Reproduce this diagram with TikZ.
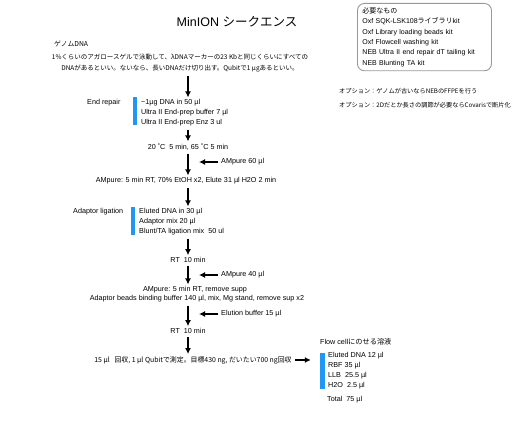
\documentclass[tikz,border=0pt]{standalone}
\usepackage{fontspec}
\usetikzlibrary{arrows.meta}
\setmainfont{Liberation Sans}
\newfontfamily\jp{Noto Sans CJK JP}
\definecolor{barblue}{RGB}{33,150,243}
\begin{document}
\begin{tikzpicture}[x=1pt,y=-1pt,
    txt/.style={inner sep=1pt,font=\fontsize{7.2}{8.5}\selectfont},
    jptxt/.style={inner sep=1pt,font=\fontsize{#1}{8.5}\selectfont\jp},
    bar/.style={fill=barblue,draw=none,inner sep=0pt,minimum width=4.5pt},
    flow/.style={line width=1.2pt,-{Latex[length=6pt,width=6pt]},shorten <=2pt,shorten >=1pt},
    side/.style={flow,shorten >=11pt}]
  \useasboundingbox (0,0) rectangle (530,425);
  \coordinate (col) at (188,0); % main column
  \node[font=\fontsize{12.5}{14}\selectfont] (title) at (237,22) {MinION {\jp シークエンス}};
  % needed kits
  \node[txt,draw=gray!80,line width=0.9pt,rounded corners=7pt,anchor=north west,
        align=left,text width=124pt,inner xsep=5pt,inner ysep=4pt,
        font=\fontsize{7}{10.4}\selectfont] (kits) at (357,3)
    {{\jp 必要なもの}\\
     Oxf SQK-LSK108{\jp ライブラリ}kit\\
     Oxf Library loading beads kit\\
     Oxf Flowcell washing kit\\
     NEB Ultra II end repair dT tailing kit\\
     NEB Blunting TA kit};
  \node[jptxt=6.2,right] (opt1) at (338,91) {オプション：ゲノムが古いならNEBのFFPEを行う};
  \node[jptxt=6.2,right] (opt2) at (338,105) {オプション：2Dだとか長さの調節が必要ならCovarisで断片化};
  % genome
  \node[jptxt=6.8,right] (genome) at (53,44) {ゲノムDNA};
  \node[jptxt=6.5] (gel1) at (180,57) {1\%くらいのアガロースゲルで泳動して、λDNAマーカーの23 Kbと同じくらいにすべての};
  \node[jptxt=6.5] (gel2) at (180,69) {DNAがあるといい。ないなら、長いDNAだけ切り出す。Qubitで1 µgあるといい。};
  % end repair
  \node[txt,right] (endrep) at (86,103) {End repair};
  \node[bar,minimum height=28pt] (erbar) at (135,111) {};
  \node[txt,right] (er1) at (140,103) {\textasciitilde1µg DNA in 50 µl};
  \node[txt,right] (er2) at (140,113) {Ultra II End-prep buffer 7 µl};
  \node[txt,right] (er3) at (140,123) {Ultra II End-prep Enz 3 ul};
  \node[txt] (temp) at (188,147) {20 ˚C\ \ 5 min, 65 ˚C 5 min};
  \node[txt,right] (amp60) at (220,162) {AMpure 60 µl};
  \node[txt] (amp1) at (186,181) {AMpure: 5 min RT, 70\% EtOH x2, Elute 31 µl H2O 2 min};
  % adaptor ligation
  \node[txt,right] (adlig) at (72,212) {Adaptor ligation};
  \node[bar,minimum height=28pt] (adbar) at (133,221) {};
  \node[txt,right] (ad1) at (138,212) {Eluted DNA in 30 µl};
  \node[txt,right] (ad2) at (138,222) {Adaptor mix 20 µl};
  \node[txt,right] (ad3) at (138,232) {Blunt/TA ligation mix\ \ 50 ul};
  \node[txt] (rt1) at (188,260) {RT\ \ 10 min};
  \node[txt,right] (amp40) at (220,275) {AMpure 40 µl};
  \node[txt] (amp2) at (195,290) {AMpure: 5 min RT, remove supp};
  \node[txt] (beads) at (197,299) {Adaptor beads binding buffer 140 µl, mix, Mg stand, remove sup x2};
  \node[txt,right] (elu) at (220,314) {Elution buffer 15 µl};
  \node[txt] (rt2) at (188,331) {RT\ \ 10 min};
  \node[jptxt=6.9] (qubit) at (193,360) {15 µl\ \ \ 回収, 1 µl Qubitで測定。目標430 ng, だいたい700 ng回収};
  % flow cell
  \node[txt,right] (fctitle) at (319,342) {Flow cell{\jp にのせる溶液}};
  \node[bar,minimum width=5pt,minimum height=36pt] (fcbar) at (322.5,371) {};
  \node[txt,right] (fc1) at (327,356) {Eluted DNA 12 µl};
  \node[txt,right] (fc2) at (327,366) {RBF 35 µl};
  \node[txt,right] (fc3) at (327,376) {LLB\ \ 25.5 µl};
  \node[txt,right] (fc4) at (327,386) {H2O\ \ 2.5 µl};
  \node[txt,right] (total) at (326,400) {Total\ \ 75 µl};
  % arrows
  \draw[flow] (gel2.south -| col) -- (er1.north -| col);
  \draw[flow] (er3.south -| col) -- (temp.north -| col);
  \draw[flow] (temp.south -| col) -- (amp1.north -| col);
  \draw[side] (amp60.west) -- (amp60.west -| col);
  \draw[flow] (amp1.south -| col) -- (ad1.north -| col);
  \draw[flow] (ad3.south -| col) -- (rt1.north -| col);
  \draw[flow] (rt1.south -| col) -- (amp2.north -| col);
  \draw[side] (amp40.west) -- (amp40.west -| col);
  \draw[flow] (beads.south -| col) -- (rt2.north -| col);
  \draw[side] (elu.west) -- (elu.west -| col);
  \draw[flow] (rt2.south -| col) -- (qubit.north -| col);
  \draw[flow,shorten >=9pt] (qubit.east) -- (fcbar.west |- qubit.east);
\end{tikzpicture}
\end{document}
